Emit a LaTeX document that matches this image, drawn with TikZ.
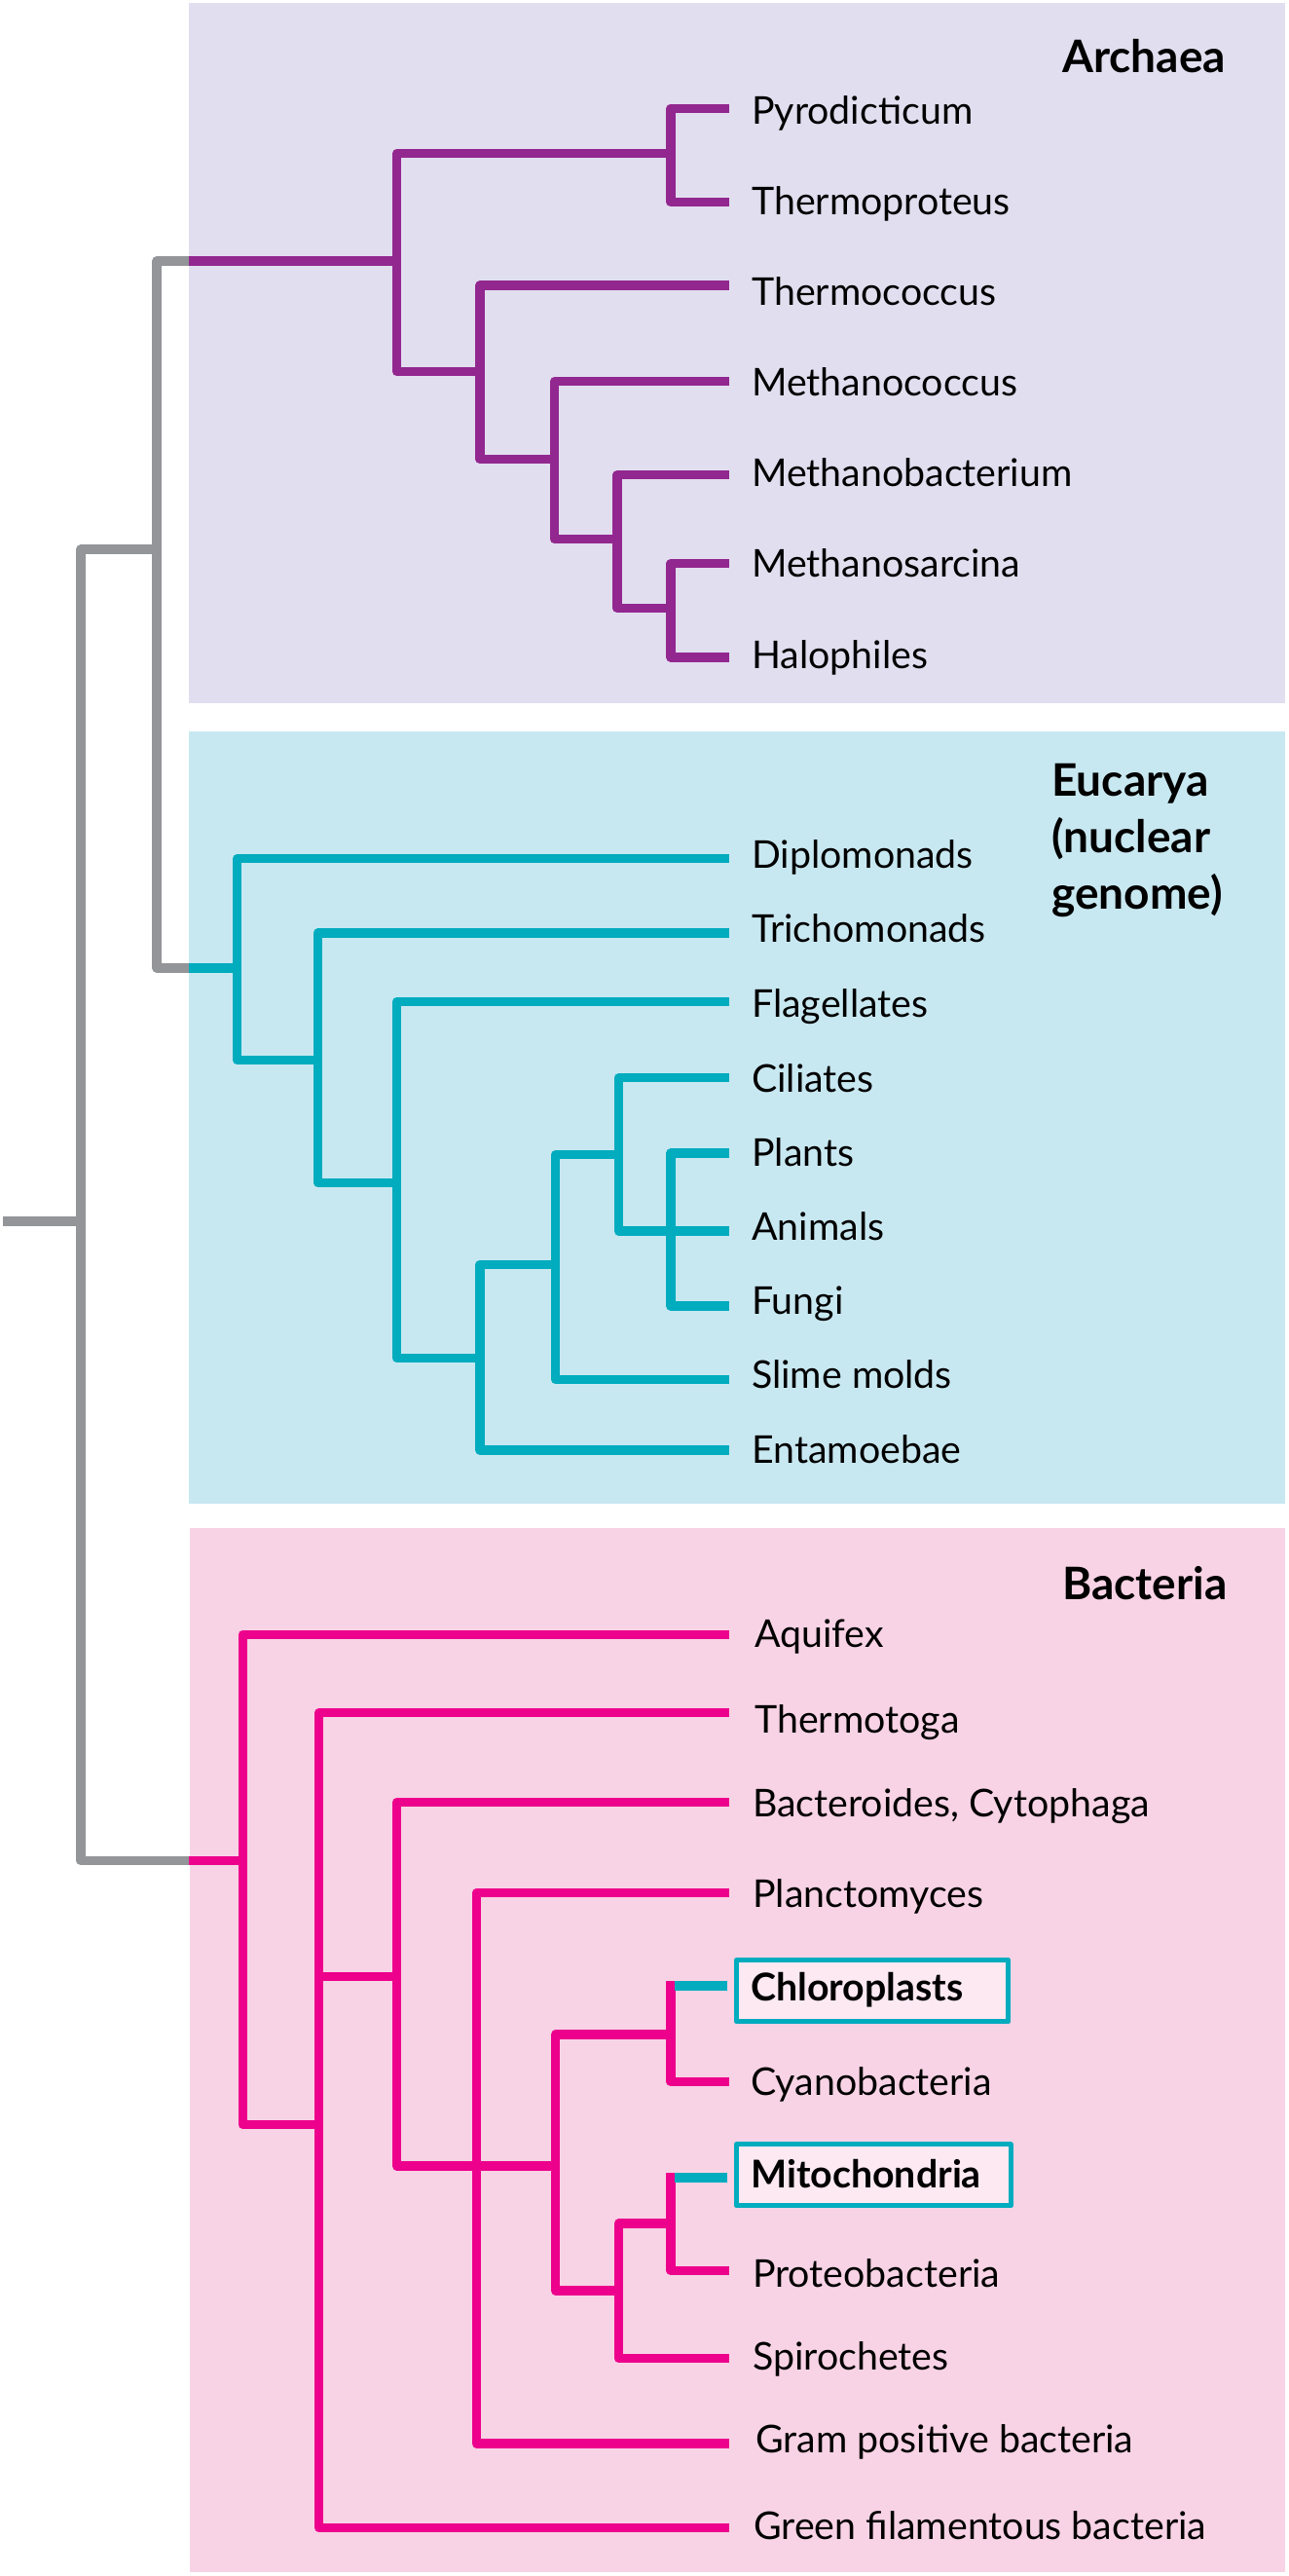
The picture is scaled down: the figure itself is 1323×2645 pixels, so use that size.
\documentclass[tikz,border=0pt]{standalone}
\usepackage{fontspec}
\setmainfont{Lato}
\definecolor{cpurple}{HTML}{92278F}
\definecolor{cteal}{HTML}{00ACBE}
\definecolor{cmag}{HTML}{EC008C}
\definecolor{cgray}{HTML}{939598}
\definecolor{bgA}{HTML}{E1DEEF}
\definecolor{bgE}{HTML}{C8E8F1}
\definecolor{bgB}{HTML}{F8D3E5}
\definecolor{boxfill}{HTML}{FCE9F2}
\begin{document}
\begin{tikzpicture}[x=1pt,y=-1pt,line join=round,
  br/.style={line width=9.2pt,line cap=butt},
  grayl/.style={br,draw=cgray},
  arch/.style={br,draw=cpurple},
  euc/.style={br,draw=cteal},
  bac/.style={br,draw=cmag},
  leaf/.style={anchor=base west,inner sep=0pt,font=\fontsize{39.3}{42}\selectfont},
  leafb/.style={leaf,font=\fontsize{39.3}{42}\selectfont\bfseries},
  title/.style={inner sep=0pt,font=\fontsize{46}{58}\selectfont\bfseries},
  hbox/.style={draw=cteal,line width=5pt,fill=boxfill,inner sep=0pt}]
\useasboundingbox (0,0) rectangle (1323,2645);
\fill[white] (0,0) rectangle (1323,2645);
% panels
\fill[bgA] (193.5,3) rectangle (1319.5,722);
\fill[bgE] (193.5,751.4) rectangle (1319.5,1544.2);
\fill[bgB] (194.5,1568.5) rectangle (1319.5,2641.3);
% titles
\node[title,anchor=base west] (tA) at (1091,74) {Archaea};
\node[title,anchor=base west,align=left] (tE) at (1080,933.3) {Eucarya\\(nuclear\\genome)};
\node[title,anchor=base west] (tB) at (1091,1642.3) {Bacteria};
% gray root
\coordinate (rootEnd) at (3,1254);
\coordinate (G0) at (83,1254);
\coordinate (G1) at (161,564);
\coordinate (aIn) at (194,268);
\coordinate (eIn) at (194,994);
\coordinate (bIn) at (194,1910.6);
\draw[grayl] (rootEnd) -- (G0);
\draw[grayl] (G0) |- (G1);
\draw[grayl] (G0) |- (bIn);
\draw[grayl] (G1) |- (aIn);
\draw[grayl] (G1) |- (eIn);
% Archaea
\coordinate (A1) at (407.6,268);
\coordinate (A2) at (689,157.5);
\coordinate (A3) at (493,381.6);
\coordinate (A4) at (569.7,471.6);
\coordinate (A5) at (634,553.8);
\coordinate (A6) at (689,624.5);
\coordinate (aL1) at (748.5,111.1);
\coordinate (aL2) at (748.5,207.6);
\coordinate (aL3) at (748.5,293);
\coordinate (aL4) at (748.5,391.7);
\coordinate (aL5) at (748.5,487.6);
\coordinate (aL6) at (748.5,578.6);
\coordinate (aL7) at (748.5,675);
\draw[arch] (aIn) -- (A1);
\draw[arch] (A1) |- (A2);
\draw[arch] (A1) |- (A3);
\draw[arch] (A2) |- (aL1);
\draw[arch] (A2) |- (aL2);
\draw[arch] (A3) |- (aL3);
\draw[arch] (A3) |- (A4);
\draw[arch] (A4) |- (aL4);
\draw[arch] (A4) |- (A5);
\draw[arch] (A5) |- (aL5);
\draw[arch] (A5) |- (A6);
\draw[arch] (A6) |- (aL6);
\draw[arch] (A6) |- (aL7);
\node[leaf] (nPyro) at (772,127) {Pyrodicticum};
\node[leaf] (nThp) at (772,220.5) {Thermoproteus};
\node[leaf] (nThc) at (772,313) {Thermococcus};
\node[leaf] (nMc) at (772,406) {Methanococcus};
\node[leaf] (nMb) at (772,499) {Methanobacterium};
\node[leaf] (nMs) at (772,592) {Methanosarcina};
\node[leaf] (nHal) at (772,686) {Halophiles};
% Eucarya
\coordinate (E1) at (243.7,994);
\coordinate (E2) at (326.3,1088.5);
\coordinate (E3) at (407.6,1214.3);
\coordinate (E4) at (493,1394.3);
\coordinate (E5) at (570.6,1298.3);
\coordinate (E6) at (635.4,1185.8);
\coordinate (E7) at (689,1264);
\coordinate (eL1) at (748.5,881.8);
\coordinate (eL2) at (748.5,958);
\coordinate (eL3) at (748.5,1028.3);
\coordinate (eL4) at (748.5,1106.8);
\coordinate (eL5) at (748.5,1184);
\coordinate (eL6) at (748.5,1264);
\coordinate (eL7) at (748.5,1341);
\coordinate (eL8) at (748.5,1416.5);
\coordinate (eL9) at (748.5,1489);
\draw[euc] (eIn) -- (E1);
\draw[euc] (E1) |- (eL1);
\draw[euc] (E1) |- (E2);
\draw[euc] (E2) |- (eL2);
\draw[euc] (E2) |- (E3);
\draw[euc] (E3) |- (eL3);
\draw[euc] (E3) |- (E4);
\draw[euc] (E4) |- (E5);
\draw[euc] (E4) |- (eL9);
\draw[euc] (E5) |- (E6);
\draw[euc] (E5) |- (eL8);
\draw[euc] (E6) |- (eL4);
\draw[euc] (E6) |- (E7);
\draw[euc] (E7) |- (eL5);
\draw[euc] (E7) -- (eL6);
\draw[euc] (E7) |- (eL7);
\node[leaf] (nDip) at (772,891.7) {Diplomonads};
\node[leaf] (nTri) at (772,967.5) {Trichomonads};
\node[leaf] (nFla) at (772,1044) {Flagellates};
\node[leaf] (nCil) at (772,1121.8) {Ciliates};
\node[leaf] (nPla) at (772,1197.6) {Plants};
\node[leaf] (nAni) at (772,1273.5) {Animals};
\node[leaf] (nFun) at (772,1349) {Fungi};
\node[leaf] (nSli) at (772,1425) {Slime molds};
\node[leaf] (nEnt) at (772,1502.5) {Entamoebae};
% Bacteria
\coordinate (B1) at (249.2,1910.6);
\coordinate (B2) at (327.7,2181.7);
\coordinate (B3) at (407.6,2029.5);
\coordinate (B4) at (489.3,2224);
\coordinate (B5) at (570.6,2224);
\coordinate (B6) at (689,2089);
\coordinate (B7) at (635.4,2352);
\coordinate (B8) at (689,2283);
\coordinate (bL1) at (748.5,1678.3);
\coordinate (bL2) at (748.5,1758.6);
\coordinate (bL3) at (748.5,1850.5);
\coordinate (bL4) at (748.5,1943.4);
\coordinate (chlTop) at (689,2034.3);
\coordinate (chlJ) at (693.3,2039.3);
\coordinate (chlEnd) at (746.7,2039.3);
\coordinate (bL6) at (748.5,2137.6);
\coordinate (mitTop) at (689,2230.7);
\coordinate (mitJ) at (693.3,2236);
\coordinate (mitEnd) at (746.7,2236);
\coordinate (bL8) at (748.5,2331.4);
\coordinate (bL9) at (748.5,2421.4);
\coordinate (bL10) at (748.5,2509);
\coordinate (bL11) at (748.5,2595.4);
\draw[bac] (bIn) -- (B1);
\draw[bac] (B1) |- (bL1);
\draw[bac] (B1) |- (B2);
\draw[bac] (B2) |- (bL2);
\draw[bac] (B2) |- (B3);
\draw[bac] (B2) |- (bL11);
\draw[bac] (B3) |- (bL3);
\draw[bac] (B3) |- (B4);
\draw[bac] (B4) |- (bL4);
\draw[bac] (B4) -- (B5);
\draw[bac] (B4) |- (bL10);
\draw[bac] (B5) |- (B6);
\draw[bac] (B5) |- (B7);
\draw[bac] (B6) -- (chlTop);
\draw[bac] (B6) |- (bL6);
\draw[bac] (B7) |- (B8);
\draw[bac] (B7) |- (bL9);
\draw[bac] (B8) -- (mitTop);
\draw[bac] (B8) |- (bL8);
\draw[euc,line width=10pt] (chlJ) -- (chlEnd);
\draw[euc,line width=10pt] (mitJ) -- (mitEnd);
\node[hbox,minimum width=279.3pt,minimum height=63.3pt] (boxChl) at (896.15,2044.15) {};
\node[hbox,minimum width=281.7pt,minimum height=63pt] (boxMit) at (897.35,2233.3) {};
\node[leaf] (nAqu) at (775,1691.5) {Aquifex};
\node[leaf] (nThe) at (775,1779.6) {Thermotoga};
\node[leaf] (nBac) at (773,1865.6) {Bacteroides, Cytophaga};
\node[leaf] (nPln) at (773,1958) {Planctomyces};
\node[leafb] (nChl) at (771,2054) {Chloroplasts};
\node[leaf] (nCya) at (771,2151.7) {Cyanobacteria};
\node[leafb] (nMit) at (771,2246.7) {Mitochondria};
\node[leaf] (nPro) at (773,2348.3) {Proteobacteria};
\node[leaf] (nSpi) at (773,2433.6) {Spirochetes};
\node[leaf] (nGra) at (776,2518) {Gram positive bacteria};
\node[leaf] (nGre) at (774,2607.6) {Green filamentous bacteria};
\end{tikzpicture}
\end{document}
